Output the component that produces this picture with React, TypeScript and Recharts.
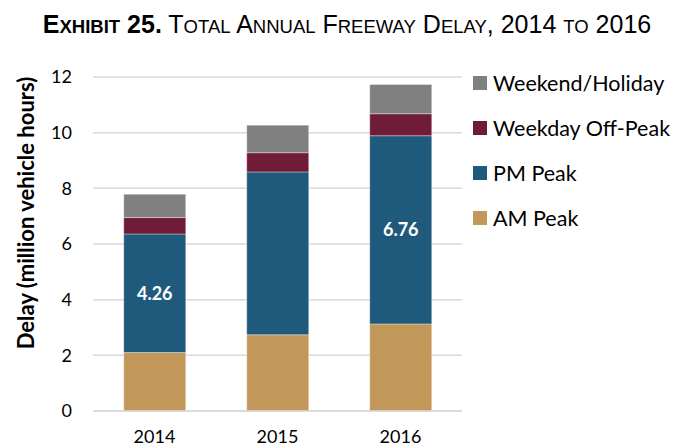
import React from 'react';
import { BarChart, Bar, XAxis, YAxis, CartesianGrid, Legend, LabelList } from 'recharts';

const years = ['2014', '2015', '2016'];
const amPeak = [2.1, 2.74, 3.13];
const pmPeak = [4.26, 5.85, 6.76];
const offPeak = [0.59, 0.69, 0.79];
const weekend = [0.84, 0.99, 1.05];
const pmLabels = ['4.26', '', '6.76'];
const yTicks = [0, 2, 4, 6, 8, 10, 12];

const series = [
  { key: 'am', name: 'AM Peak', color: '#C2975A' },
  { key: 'pm', name: 'PM Peak', color: '#1F5A7C' },
  { key: 'off', name: 'Weekday Off-Peak', color: '#701C38' },
  { key: 'wk', name: 'Weekend/Holiday', color: '#808080' },
];

const data = years.map((y, i) => ({
  year: y,
  am: amPeak[i],
  pm: pmPeak[i],
  off: offPeak[i],
  wk: weekend[i],
  pmLabel: pmLabels[i],
}));

const FONT = 'Lato, Calibri, Carlito, sans-serif';

const LegendContent = () => (
  <div style={{ fontFamily: FONT }}>
    {[...series].reverse().map((s) => (
      <div key={s.key} style={{ display: 'flex', alignItems: 'center', height: 45 }}>
        <div style={{ width: 14, height: 14, background: s.color, marginRight: 6 }} />
        <span style={{ fontSize: 21.5, color: '#000' }}>{s.name}</span>
      </div>
    ))}
  </div>
);

const YLabel = () => (
  <text
    x={25}
    y={213}
    transform="rotate(-90 25 213)"
    textAnchor="middle"
    dominantBaseline="central"
    style={{ fontFamily: FONT, fontWeight: 700, fontSize: 22, fill: '#000' }}
  >
    Delay (million vehicle hours)
  </text>
);

export default function App() {
  const big = { fontSize: 25 };
  const small = { fontSize: 18.5 };
  return (
    <div style={{ position: 'absolute', left: 0, top: 0, width: 674, height: 446, background: '#fff', overflow: 'hidden' }}>
      <div
        style={{
          position: 'absolute',
          left: 0,
          top: 8,
          width: 694,
          textAlign: 'center',
          fontFamily: '"Liberation Sans Narrow", "Arial Narrow", sans-serif',
          color: '#000',
          lineHeight: '32px',
          whiteSpace: 'nowrap',
        }}
      >
        <span style={{ fontWeight: 700 }}>
          <span style={big}>E</span><span style={small}>XHIBIT</span><span style={big}> 25.</span>
        </span>
        <span style={big}> T</span><span style={small}>OTAL</span>
        <span style={big}> A</span><span style={small}>NNUAL</span>
        <span style={big}> F</span><span style={small}>REEWAY</span>
        <span style={big}> D</span><span style={small}>ELAY</span>
        <span style={big}>, 2014 </span><span style={small}>TO</span>
        <span style={big}> 2016</span>
      </div>
      <div style={{ position: 'absolute', left: 0, top: 0 }}>
        <BarChart
          width={674}
          height={446}
          data={data}
          margin={{ top: 77, right: 12, bottom: 5, left: 0 }}
          barCategoryGap="25%"
        >
          <CartesianGrid vertical={false} stroke="#D9D9D9" strokeWidth={1.5} />
          <XAxis
            dataKey="year"
            axisLine={{ stroke: '#D9D9D9', strokeWidth: 1.5 }}
            tickLine={false}
            height={30}
            tickMargin={13}
            tick={{ fontFamily: FONT, fontSize: 18, fill: '#000' }}
          />
          <YAxis
            width={93}
            domain={[0, 12]}
            ticks={yTicks}
            axisLine={false}
            tickLine={false}
            tickMargin={15}
            tick={{ fontFamily: FONT, fontSize: 18, fill: '#000' }}
            label={<YLabel />}
          />
          <Legend
            layout="vertical"
            align="right"
            verticalAlign="top"
            content={<LegendContent />}
            wrapperStyle={{ left: 473, top: 60, width: 200 }}
          />
          {series.map((s) => (
            <Bar
              key={s.key}
              dataKey={s.key}
              name={s.name}
              stackId="a"
              fill={s.color}
              stroke="#ffffff"
              strokeOpacity={0.35}
              strokeWidth={1}
              isAnimationActive={false}
            >
              {s.key === 'pm' && (
                <LabelList
                  dataKey="pmLabel"
                  position="center"
                  style={{ fontFamily: FONT, fontWeight: 700, fontSize: 18, fill: '#fff' }}
                />
              )}
            </Bar>
          ))}
        </BarChart>
      </div>
    </div>
  );
}
